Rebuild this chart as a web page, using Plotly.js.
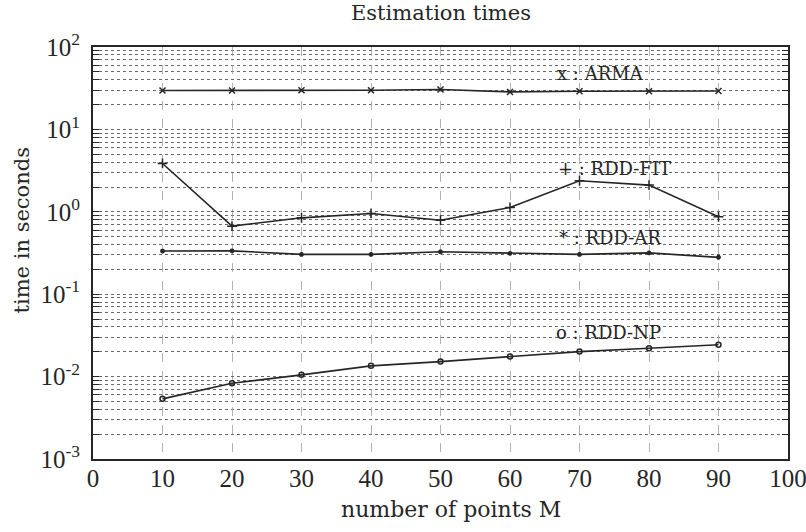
<!DOCTYPE html>
<html><head><meta charset="utf-8">
<script src="https://cdn.plot.ly/plotly-3.0.1.min.js"></script>
<style>body{margin:0;background:#fff}#chart{width:806px;height:532px}</style>
</head><body><div id="chart"></div>
<script>
const M = [10, 20, 30, 40, 50, 60, 70, 80, 90];
const arma = [29.6, 29.6, 29.9, 29.9, 30.5, 28.5, 29, 29, 29.2];
const rddFit = [3.86, 0.67, 0.845, 0.955, 0.79, 1.13, 2.38, 2.11, 0.87];
const rddAr = [0.334, 0.336, 0.304, 0.304, 0.327, 0.313, 0.304, 0.317, 0.28];
const rddNp = [0.00537, 0.0083, 0.0105, 0.0135, 0.0152, 0.0175, 0.0201, 0.0221, 0.0244];
const yTickVals = [0.001, 0.01, 0.1, 1, 10, 100];
const yTickText = ['10<sup>-3</sup>', '10<sup>-2</sup>', '10<sup>-1</sup>', '10<sup>0</sup>', '10<sup>1</sup>', '10<sup>2</sup>'];
const xTickVals = [0, 10, 20, 30, 40, 50, 60, 70, 80, 90, 100];
const labels = ['x : ARMA', '+ : RDD-FIT', '* : RDD-AR', 'o : RDD-NP'];

const FT = 'DejaVu Serif';
const FN = 'Liberation Serif';
const ink = '#262626';
const line = {color: ink, width: 1.6};
const mk = (sym, sz) => ({symbol: sym, size: sz, color: ink, line: {color: ink, width: 1.5}});
const traces = [
  {x: M, y: arma, mode: 'lines+markers', line, marker: mk('x-thin', 6), name: 'ARMA'},
  {x: M, y: rddFit, mode: 'lines+markers', line, marker: mk('cross-thin', 7), name: 'RDD-FIT'},
  {x: M, y: rddAr, mode: 'lines+markers', line, marker: mk('asterisk', 4), name: 'RDD-AR'},
  {x: M, y: rddNp, mode: 'lines+markers', line, marker: mk('circle-open', 5), name: 'RDD-NP'}
];
const annX = [73, 75.1, 74.4, 74.1];
const annY = [48, 3.39, 0.493, 0.0339];
const annotations = labels.map((t, i) => ({
  x: annX[i], y: Math.log10(annY[i]), xref: 'x', yref: 'y', text: t, showarrow: false,
  font: {family: FT, size: 18, color: ink}
}));
annotations.push({
  xref: 'paper', yref: 'paper', x: 0.515, y: -0.122, yanchor: 'middle', showarrow: false,
  text: 'number of points M', font: {family: FT, size: 22, color: ink}
});
annotations.push({
  xref: 'paper', yref: 'paper', x: -0.102, y: 0.555, xanchor: 'center', yanchor: 'middle', textangle: -90, showarrow: false,
  text: 'time in seconds', font: {family: FT, size: 21, color: ink}
});
const layout = {
  width: 806, height: 532,
  margin: {l: 93, r: 18, t: 47, b: 73},
  paper_bgcolor: '#fff', plot_bgcolor: '#fff',
  showlegend: false,
  title: {text: 'Estimation times', font: {family: FT, size: 21, color: ink}, xref: 'paper', xanchor: 'center', y: 0.99, yanchor: 'top'},
  xaxis: {
    range: [0, 100], tickvals: xTickVals, ticks: '', showline: true, linecolor: ink, linewidth: 2, mirror: true,
    showgrid: true, gridcolor: '#a0a0a0', griddash: 'dash', gridwidth: 0.8, zeroline: false,
    tickfont: {family: FN, size: 25, color: ink}, ticklabelstandoff: -4, ticklabeloverflow: 'allow'
  },
  yaxis: {
    type: 'log', range: [-3, 2], tickvals: yTickVals, ticktext: yTickText, ticks: 'inside', ticklen: 6, tickcolor: ink,
    showline: true, linecolor: ink, linewidth: 2, mirror: 'ticks',
    showgrid: true, gridcolor: '#6a6a6a', griddash: 'dot', gridwidth: 1,
    minor: {dtick: 'D1', ticks: 'inside', ticklen: 6, tickcolor: ink, showgrid: true, gridcolor: '#6a6a6a', griddash: 'dot', gridwidth: 1},
    tickfont: {family: FN, size: 25, color: ink}, ticklabelstandoff: 6, ticklabeloverflow: 'allow'
  },
  annotations
};
layout.title.x = 0.5 + (441 - 440.5) / 695;
Plotly.newPlot('chart', traces, layout, {staticPlot: true});
</script></body></html>
